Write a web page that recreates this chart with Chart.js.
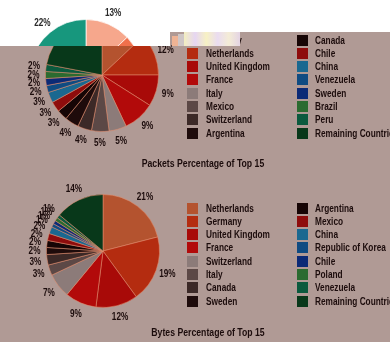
<!DOCTYPE html>
<html>
<head>
<meta charset="utf-8">
<script src="https://cdn.jsdelivr.net/npm/chart.js@4"></script>
<style>
  html, body { margin: 0; padding: 0; background: #fff; }
  #stage { position: relative; width: 390px; height: 342px; overflow: hidden; background: #fff;
           font-family: "Liberation Sans", Arial, sans-serif; }
  .layer { position: absolute; left: 0; top: 0; width: 390px; height: 342px; }
  #tinted { background: #b09a95;
            clip-path: polygon(0 46px, 170px 46px, 170px 32px, 390px 32px, 390px 342px, 0 342px); }
  canvas { position: absolute; left: 0; top: 0; }
  .leg { position: absolute; height: 13px; line-height: 13px; white-space: nowrap;
         font-weight: bold; font-size: 11.5px; color: #1c0c0c;
         transform: scaleX(0.72); transform-origin: 0 50%; }
  .sw { position: absolute; width: 11px; height: 11px; }
  .title { position: absolute; font-weight: bold; font-size: 11px; color: #1c0c0c;
           white-space: nowrap; transform: translateX(-50%) scaleX(0.79); }
  .glitch { position: absolute; }
</style>
</head>
<body>
<div id="stage">
  <div class="layer" id="plain">
    <canvas id="packetsPlain" width="390" height="342"></canvas>
  </div>
  <div class="layer" id="tinted">
    <canvas id="packetsChart" width="390" height="342"></canvas>
    <canvas id="bytesChart" width="390" height="342"></canvas>
    <div class="title" style="left:203px; top:157px;">Packets Percentage of Top 15</div>
    <div class="title" style="left:208px; top:326px;">Bytes Percentage of Top 15</div>
  </div>
  <div class="glitch" style="left:172px; top:36px; width:6px; height:10px; background:#efb394;"></div>
  <div class="glitch" style="left:178px; top:34px; width:6px; height:12px; background:#cfc6c6;"></div>
  <div class="glitch" style="left:184px; top:32px; width:56px; height:14px;
       background: linear-gradient(90deg, #f3eec0, #e6d6f2 20%, #f7f1c4 40%, #eadcf0 60%, #f4ecd6 80%, #e4d4e4);"></div>
</div>
<script>
// packets, top 15 countries
const packetCountries = ['Germany', 'Netherlands', 'United Kingdom', 'France', 'Italy', 'Mexico',
  'Switzerland', 'Argentina', 'Canada', 'Chile', 'China', 'Venezuela', 'Sweden', 'Brazil', 'Peru',
  'Remaining Countries'];
const packetShares = [13, 12, 9, 9, 5, 5, 4, 4, 3, 3, 3, 2, 2, 2, 2, 22];

// bytes, top 15 countries
const byteCountries = ['Netherlands', 'Germany', 'United Kingdom', 'France', 'Switzerland', 'Italy',
  'Canada', 'Sweden', 'Argentina', 'Mexico', 'China', 'Republic of Korea', 'Chile', 'Poland',
  'Venezuela', 'Remaining Countries'];
const byteShares = [21, 19, 12, 9, 7, 3, 3, 2, 2, 2, 2, 1, 1, 1, 1, 14];

// palette as seen under the tinted overlay, and the untinted one peeking out at the top
const tintColors = ['#b4532f', '#b42c10', '#a80a08', '#b20a0a', '#8c7b79', '#5c4846', '#3c2927',
  '#1e0b0b', '#160505', '#8e0c0c', '#1a6890', '#0f4b82', '#0b2a76', '#2b6b30', '#0b5a3e', '#08381a'];
const plainColors = ['#f6a78c', '#f0704c', '#e83c30', '#f03a30', '#d8cccc', '#b4a4a4', '#948080',
  '#6a5050', '#5a4040', '#d84040', '#58b0d8', '#4890c8', '#3870c0', '#70b070', '#40a888', '#17977d'];

/**
 * Draws "n%" just outside every slice (condensed by a horizontal squeeze)
 */
const pctLabels = {
  id: 'pctLabels',
  afterDatasetsDraw(chart, args, opts) {
    const ctx = chart.ctx;
    const meta = chart.getDatasetMeta(0);
    const vals = chart.data.datasets[0].data;
    meta.data.forEach((arc, i) => {
      const p = arc.getProps(['x', 'y', 'startAngle', 'endAngle', 'outerRadius']);
      const mid = (p.startAngle + p.endAngle) / 2;
      const r = p.outerRadius + opts.offset;
      ctx.save();
      ctx.font = opts.font;
      ctx.fillStyle = opts.color;
      ctx.textAlign = 'center';
      ctx.textBaseline = 'middle';
      ctx.translate(p.x + Math.cos(mid) * r, p.y + Math.sin(mid) * r);
      ctx.scale(0.78, 1);
      ctx.fillText(vals[i] + '%', 0, 0);
      ctx.restore();
    });
  }
};

function makePie(id, labels, values, colors, border, cx, cy, r, labelColor) {
  return new Chart(document.getElementById(id), {
    type: 'pie',
    data: {
      labels: labels,
      datasets: [{
        data: values,
        backgroundColor: colors,
        borderColor: border,
        borderWidth: 1
      }]
    },
    options: {
      responsive: false,
      animation: false,
      layout: {
        padding: { left: cx - r, right: 390 - cx - r, top: cy - r, bottom: 342 - cy - r }
      },
      plugins: {
        legend: { display: false },
        tooltip: { enabled: false },
        pctLabels: {
          font: 'bold 10.5px "Liberation Sans", Arial, sans-serif',
          color: labelColor,
          offset: 12
        }
      }
    },
    plugins: [pctLabels]
  });
}

function buildLegend(parent, labels, colors, firstRowY) {
  labels.forEach((name, i) => {
    const col = i < 8 ? 0 : 1;
    const y = firstRowY + (i % 8) * 13.3;
    const sw = document.createElement('div');
    sw.className = 'sw';
    sw.style.left = (col ? 297 : 187) + 'px';
    sw.style.top = Math.round(y - 5.5) + 'px';
    sw.style.background = colors[i];
    parent.appendChild(sw);
    const tx = document.createElement('div');
    tx.className = 'leg';
    tx.style.left = (col ? 315 : 206) + 'px';
    tx.style.top = Math.round(y - 6.5) + 'px';
    tx.textContent = name;
    parent.appendChild(tx);
  });
}

makePie('packetsPlain', packetCountries, packetShares, plainColors, 'rgba(255,255,255,0.7)', 86, 76, 57, '#2a2a2a');
makePie('packetsChart', packetCountries, packetShares, tintColors, 'rgba(225,140,110,0.55)', 102, 75, 57, '#1c0c0c');
makePie('bytesChart', byteCountries, byteShares, tintColors, 'rgba(225,140,110,0.55)', 103, 251, 57, '#1c0c0c');

const tinted = document.getElementById('tinted');
buildLegend(tinted, packetCountries, tintColors, 40);
buildLegend(tinted, byteCountries, tintColors, 208);
</script>
</body>
</html>
